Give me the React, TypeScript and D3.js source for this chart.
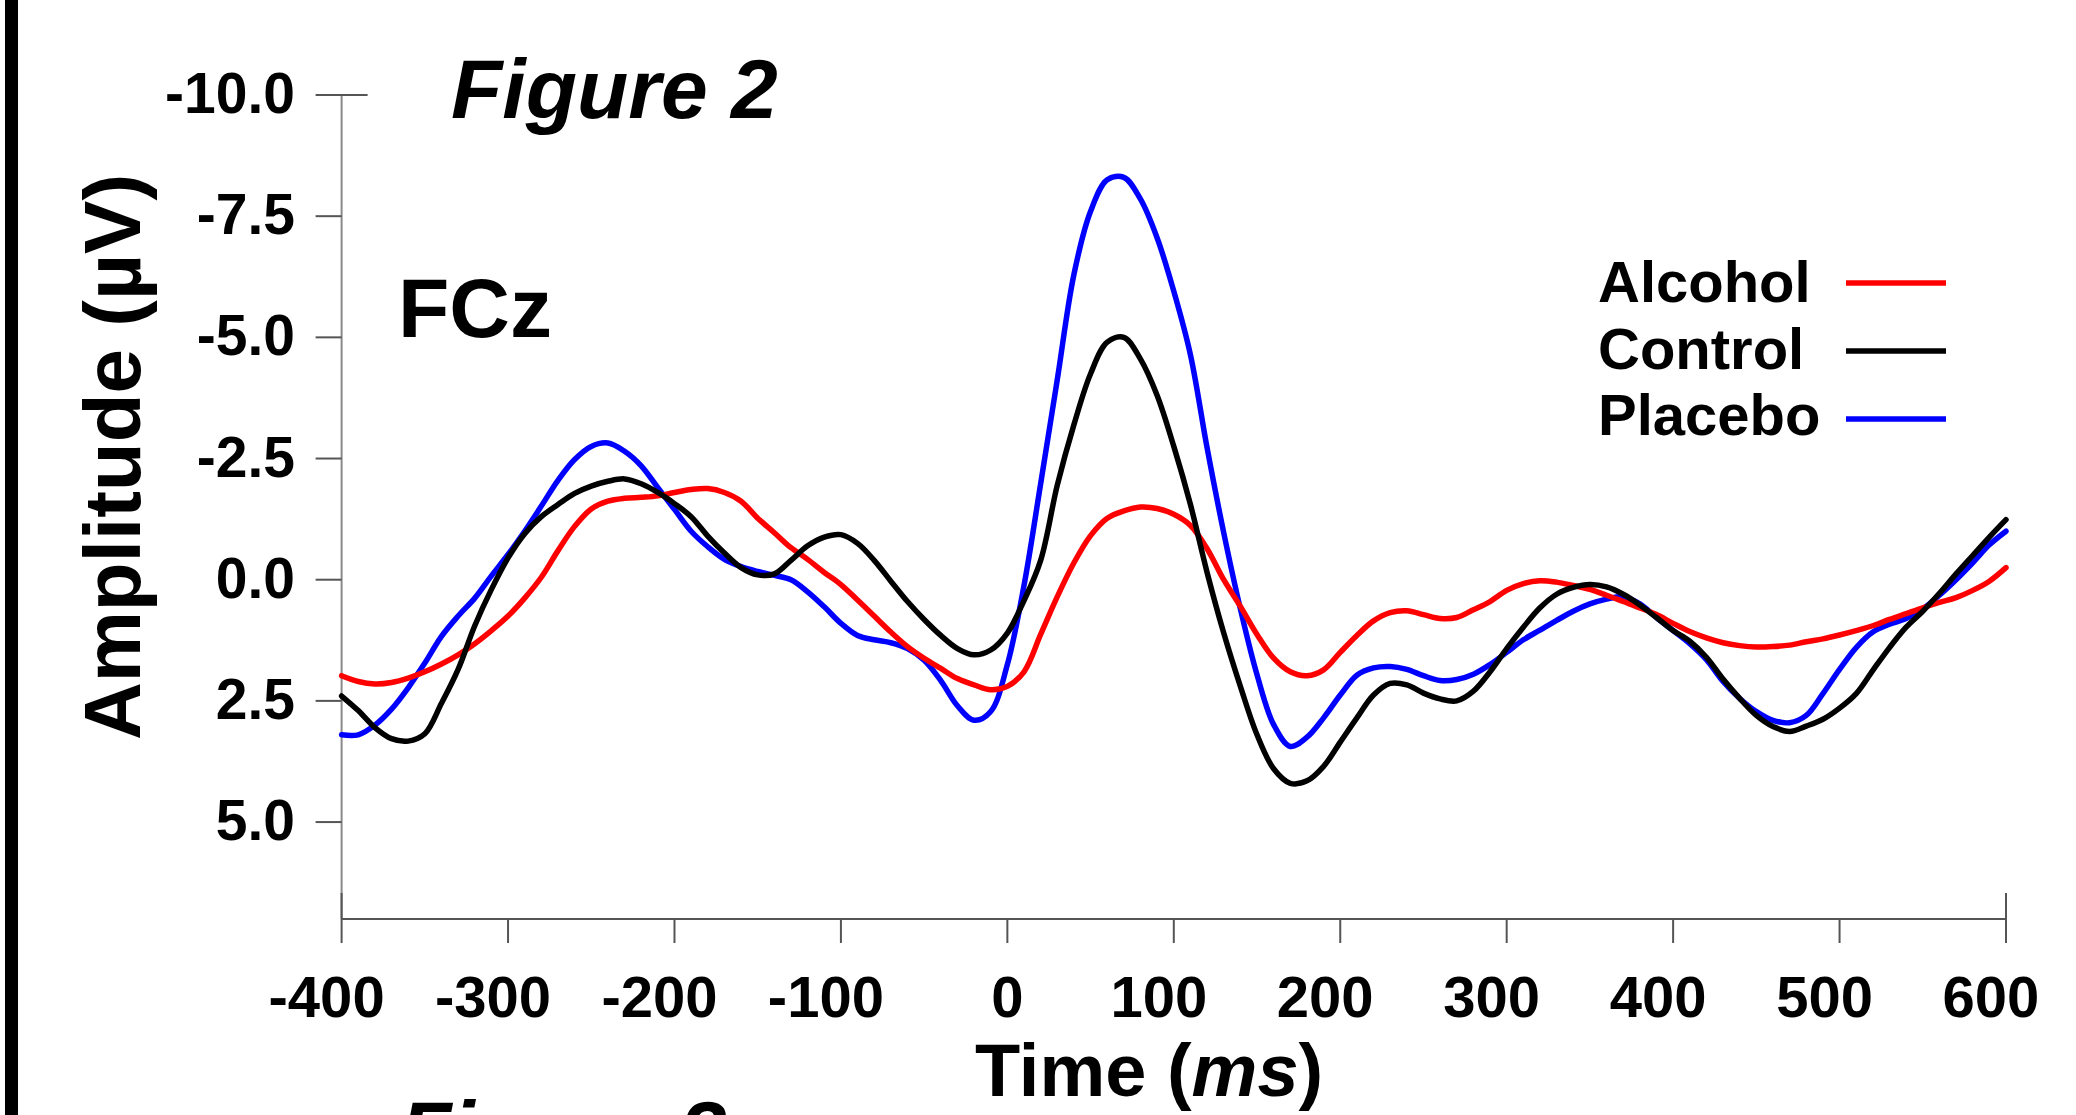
import React from 'react';
import * as d3 from 'd3';

// FCz grand averages, sampled every 10 ms (-400 .. 600 ms), values in µV
const timesMs = d3.range(-400, 601, 10);

const alcohol = [
  1.98, 2.1, 2.15, 2.12, 2.03, 1.9, 1.74, 1.55, 1.32, 1.05, // -400..-310
  0.75, 0.38, -0.05, -0.6, -1.1, -1.46, -1.62, -1.68, -1.7, -1.73, // -300..-210
  -1.8, -1.86, -1.88, -1.8, -1.62, -1.27, -0.97, -0.66, -0.42, -0.15, // -200..-110
  0.1, 0.42, 0.75, 1.08, 1.38, 1.62, 1.83, 2.04, 2.17, 2.27, // -100..-10
  2.2, 1.9, 1.13, 0.35, -0.35, -0.91, -1.27, -1.42, -1.5, -1.47, // 0..90
  -1.35, -1.12, -0.64, 0.0, 0.55, 1.13, 1.62, 1.9, 1.98, 1.86, // 100..190
  1.5, 1.15, 0.85, 0.68, 0.64, 0.72, 0.8, 0.78, 0.62, 0.45, // 200..290
  0.22, 0.08, 0.02, 0.05, 0.12, 0.2, 0.32, 0.45, 0.58, 0.72, // 300..390
  0.9, 1.07, 1.2, 1.3, 1.36, 1.39, 1.38, 1.35, 1.28, 1.22, // 400..490
  1.14, 1.05, 0.95, 0.82, 0.7, 0.58, 0.47, 0.37, 0.22, 0.03, // 500..590
  -0.25, // 600
];

const control = [
  2.4, 2.7, 3.05, 3.28, 3.33, 3.18, 2.55, 1.85, 0.95, 0.2,
  -0.45, -0.95, -1.3, -1.55, -1.78, -1.93, -2.03, -2.08, -1.98, -1.8,
  -1.57, -1.3, -0.9, -0.55, -0.25, -0.1, -0.12, -0.4, -0.7, -0.88,
  -0.93, -0.75, -0.4, 0.03, 0.45, 0.82, 1.15, 1.42, 1.55, 1.45,
  1.1, 0.43, -0.4, -1.95, -3.2, -4.25, -4.9, -5.0, -4.55, -3.8,
  -2.75, -1.55, -0.15, 1.1, 2.2, 3.2, 3.9, 4.2, 4.15, 3.85,
  3.35, 2.85, 2.38, 2.14, 2.17, 2.34, 2.46, 2.5, 2.3, 1.9,
  1.42, 0.98, 0.58, 0.3, 0.16, 0.1, 0.15, 0.3, 0.52, 0.78,
  1.05, 1.27, 1.6, 2.05, 2.45, 2.8, 3.03, 3.13, 3.02, 2.88,
  2.65, 2.35, 1.87, 1.4, 0.98, 0.65, 0.28, -0.12, -0.5, -0.88,
  -1.24,
];

const placebo = [
  3.2, 3.2, 3.0, 2.67, 2.23, 1.72, 1.17, 0.75, 0.38, -0.08,
  -0.52, -1.0, -1.52, -2.05, -2.48, -2.75, -2.82, -2.65, -2.35, -1.9,
  -1.45, -1.0, -0.68, -0.42, -0.27, -0.17, -0.09, 0.0, 0.25, 0.56,
  0.9, 1.15, 1.24, 1.3, 1.42, 1.66, 2.08, 2.6, 2.9, 2.72,
  1.75, 0.12, -1.98, -4.13, -6.3, -7.6, -8.25, -8.3, -7.85, -7.05,
  -5.95, -4.64, -2.72, -0.97, 0.6, 1.96, 2.99, 3.44, 3.25, 2.85,
  2.38, 1.97, 1.82, 1.79, 1.85, 1.98, 2.08, 2.06, 1.95, 1.75,
  1.5, 1.24, 1.04, 0.84, 0.65, 0.5, 0.4, 0.35, 0.5, 0.78,
  1.05, 1.32, 1.65, 2.1, 2.45, 2.72, 2.9, 2.95, 2.8, 2.35,
  1.85, 1.4, 1.08, 0.92, 0.8, 0.6, 0.32, 0.0, -0.35, -0.72,
  -1.0,
];

const seriesNames = ['Alcohol', 'Control', 'Placebo'];
const seriesColors = ['#ff0000', '#000000', '#0000ff'];

const xTickValues = [-400, -300, -200, -100, 0, 100, 200, 300, 400, 500, 600];
const xTickLabels = ['-400', '-300', '-200', '-100', '0', '100', '200', '300', '400', '500', '600'];
const yTickValues = [-10, -7.5, -5, -2.5, 0, 2.5, 5];
const yTickLabels = ['-10.0', '-7.5', '-5.0', '-2.5', '0.0', '2.5', '5.0'];

const W = 2076;
const H = 1115;
const FONT = '"Liberation Sans", Arial, Helvetica, sans-serif';

export default function App() {
  const x = d3.scaleLinear().domain([-400, 600]).range([341.6, 2006]);
  const y = d3.scaleLinear().domain([-10, 7]).range([95, 919]);

  const line = d3
    .line<number>()
    .x((_, i) => x(timesMs[i]))
    .y((d) => y(d))
    .curve(d3.curveCatmullRom.alpha(0.5));

  const series = [alcohol, control, placebo];
  // placebo underneath, control on top
  const drawOrder = [2, 0, 1];

  const x0 = x(-400);
  const x1 = x(600);
  const yTop = y(-10);
  const yBottom = y(7);

  return (
    <svg
      width={W}
      height={H}
      viewBox={`0 0 ${W} ${H}`}
      style={{ position: 'absolute', left: 0, top: 0, display: 'block', background: '#fff' }}
      fontFamily={FONT}
    >
      <rect x={0} y={0} width={W} height={H} fill="#fff" />
      {/* thick black bar on the page edge */}
      <rect x={5} y={0} width={13} height={H} fill="#000" />

      {/* axes */}
      <line x1={x0} x2={x0} y1={yTop} y2={yBottom} stroke="#8a8a8a" strokeWidth={2} />
      <line x1={x0} x2={x1} y1={yBottom} y2={yBottom} stroke="#555" strokeWidth={2} />

      {yTickValues.map((v, i) => (
        <g key={'yt' + v}>
          <line
            x1={x0 - 26}
            x2={i === 0 ? x0 + 26 : x0}
            y1={y(v)}
            y2={y(v)}
            stroke="#555"
            strokeWidth={2}
          />
          <text
            x={295}
            y={y(v) + 18}
            textAnchor="end"
            fontSize={57}
            fontWeight="bold"
            fill="#000"
          >
            {yTickLabels[i]}
          </text>
        </g>
      ))}

      {xTickValues.map((t, i) => {
        const isEnd = i === 0 || i === xTickValues.length - 1;
        const label = xTickLabels[i];
        return (
          <g key={'xt' + t}>
            <line
              x1={x(t)}
              x2={x(t)}
              y1={isEnd ? yBottom - 26 : yBottom}
              y2={yBottom + 24}
              stroke="#555"
              strokeWidth={2}
            />
            <text
              x={x(t) + (label.length > 1 ? -15 : 0)}
              y={1017}
              textAnchor="middle"
              fontSize={58}
              fontWeight="bold"
              fill="#000"
            >
              {label}
            </text>
          </g>
        );
      })}

      {/* waveforms */}
      {drawOrder.map((si) => (
        <path
          key={seriesNames[si]}
          d={line(series[si]) || ''}
          fill="none"
          stroke={seriesColors[si]}
          strokeWidth={5.5}
          strokeLinejoin="round"
          strokeLinecap="round"
        />
      ))}

      {/* legend */}
      {seriesNames.map((name, i) => (
        <g key={'lg' + name}>
          <text x={1598} y={302 + i * 66.5} fontSize={58} fontWeight="bold" fill="#000">
            {name}
          </text>
          <line
            x1={1846}
            x2={1946}
            y1={283 + i * 68}
            y2={283 + i * 68}
            stroke={seriesColors[i]}
            strokeWidth={5.5}
          />
        </g>
      ))}

      {/* titles and axis labels */}
      <text x={451} y={118} fontSize={84} fontWeight="bold" fontStyle="italic" fill="#000">
        Figure 2
      </text>
      <text x={398} y={337} fontSize={84} fontWeight="bold" fill="#000">
        FCz
      </text>
      <text
        transform="translate(140,457) rotate(-90)"
        textAnchor="middle"
        fontSize={80}
        fontWeight="bold"
        fill="#000"
      >
        Amplitude (µV)
      </text>
      <text x={975} y={1096} fontSize={74} fontWeight="bold" fill="#000">
        Time (<tspan fontStyle="italic">ms</tspan>)
      </text>
      {/* next figure's heading, cut off by the page edge as in the source page */}
      <text x={400} y={1160} fontSize={84} fontWeight="bold" fontStyle="italic" fill="#000">
        Figure 3
      </text>
    </svg>
  );
}
